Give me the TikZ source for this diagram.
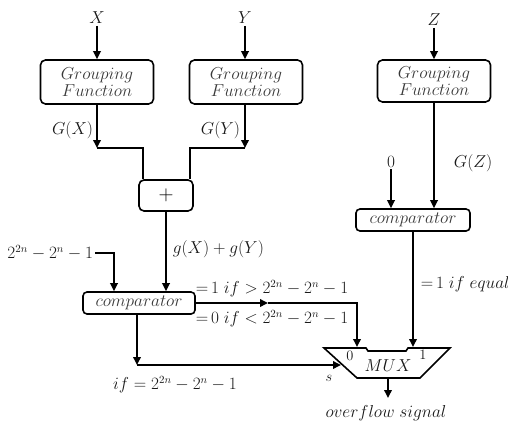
\documentclass[tikz,border=0pt]{standalone}
\usetikzlibrary{arrows.meta}
\begin{document}
\begin{tikzpicture}[x=1pt,y=-1pt,
  line width=1.8pt,
  arr/.style={-{Triangle[width=7.5pt,length=8pt]}},
  lab/.style={inner sep=1pt,text=black!90,font=\fontsize{16}{18}\selectfont},
  small/.style={inner sep=1pt,text=black!90,font=\fontsize{15}{17}\selectfont},
  gbox/.style={draw,line width=1.6pt,rounded corners=5pt,minimum width=113pt,minimum height=44pt,align=center,inner sep=0pt,text=black!78,font=\fontsize{16.5}{17}\selectfont},
  cbox/.style={draw,line width=1.6pt,rounded corners=4pt,minimum width=113pt,minimum height=22pt,inner sep=0pt,text=black!78,font=\fontsize{16.5}{17}\selectfont}
]
\useasboundingbox (0,0) rectangle (508,420);

% inputs and grouping functions
\node[lab] (X) at (97,18) {$X$};
\node[lab] (Y) at (245,18) {$Y$};
\node[lab] (Z) at (434,20) {$Z$};
\node[gbox] (g1) at (97,82) {$Grouping$\\$Function$};
\node[gbox] (g2) at (246,82) {$Grouping$\\$Function$};
\node[gbox,minimum height=42pt] (g3) at (434,81) {$Grouping$\\$Function$};
\draw[arr] (X.south) -- (X.south |- g1.north);
\draw[arr] (Y.south) -- (Y.south |- g2.north);
\draw[arr] (Z.south) -- (Z.south |- g3.north);

% adder
\node[draw,line width=1.6pt,rounded corners=5pt,minimum width=54pt,minimum height=31pt,inner sep=0pt,font=\fontsize{20}{20}\selectfont] (plus) at (166,195.5) {$+$};
\coordinate (jx) at (97,148);
\coordinate (jy) at (245,148);
\draw[arr] (g1.south -| jx) -- (jx);
\draw[arr] (g2.south -| jy) -- (jy);
\draw (jx) -| ([xshift=5pt]plus.north west);
\draw (jy) -| ([xshift=-4pt]plus.north east);
\node[lab,anchor=east] at (95,130) {$G(X)$};
\node[lab,anchor=east] at (242,130) {$G(Y)$};

% comparator 1
\node[cbox,minimum width=112pt] (c1) at (139,303) {$comparator$};
\draw[arr] (plus.south) -- (plus.south |- c1.north);
\node[lab,anchor=west] at (171,249) {$g(X)+g(Y)$};
\node[lab,anchor=east] (th) at (95,253) {$2^{2n}-2^n-1$};
\draw[arr] (th.east) -| ([xshift=-25pt]c1.north);

% right branch
\node[cbox,minimum width=114pt] (c2) at (413,220) {$comparator$};
\draw[arr] (g3.south) -- (g3.south |- c2.north);
\node[lab] (zero) at (391,162) {$0$};
\draw[arr] (zero.south) -- (zero.south |- c2.north);
\node[lab,anchor=west] at (452,163) {$G(Z)$};

% MUX
\draw[line width=1.6pt] (324,348) -- (366,348) -- (368,351) -- (406,351) -- (408,348) -- (450,348) -- (420,378) -- (357,378) -- cycle;
\coordinate (m0) at (357,347);
\coordinate (m1) at (413,347);
\coordinate (ms) at (341,365);
\coordinate (mo) at (388,378);
\coordinate (ov) at (388,398);
\node[small] at (350,356) {$0$};
\node[small] at (423,355) {$1$};
\node[lab] at (388,366) {$MUX$};
\node[small] at (329,378) {$s$};

% comparator 1 outputs
\coordinate (mid) at (268,303);
\draw[arr] (c1.east) -- (mid);
\draw[arr] (mid) -| (m0);
\node[lab] at (272,289) {${=}\,1\;if>2^{2n}-2^n-1$};
\node[lab] at (272,319) {${=}\,0\;if<2^{2n}-2^n-1$};
\coordinate (cs) at (137,365);
\draw[arr] (c1.south -| cs) -- (cs);
\draw[arr] (cs) -- (ms);
\node[lab] at (175,385) {$if=2^{2n}-2^n-1$};

% comparator 2 output
\draw[arr] (c2.south) -- (m1);
\node[lab,anchor=west] at (419,284) {${=}\,1\;if\;equal$};

% output
\draw[arr] (mo) -- (ov);
\node[lab] at (386,413) {$overflow\ signal$};
\end{tikzpicture}
\end{document}
